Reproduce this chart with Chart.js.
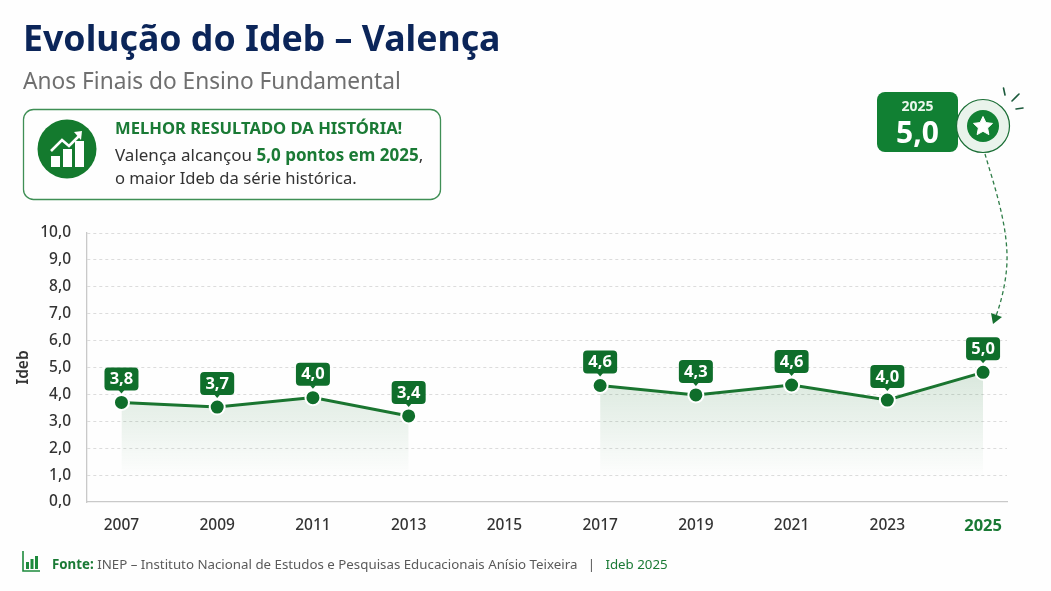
<!DOCTYPE html>
<html lang="pt-BR"><head><meta charset="utf-8">
<script src="https://cdn.jsdelivr.net/npm/chart.js@4"></script>
<style>
html,body{margin:0;padding:0;background:#fefefe}
body{width:1051px;height:591px;position:relative;overflow:hidden;font-family:"Noto Sans",sans-serif}
canvas{position:absolute;left:0;top:0}
.t{position:absolute;white-space:nowrap;line-height:1}
svg{position:absolute;left:0;top:0}
</style></head><body>
<canvas id="c" width="1051" height="591" style="width:1051px;height:591px"></canvas>
<svg width="1051" height="591" viewBox="0 0 1051 591">
  <rect x="23.5" y="109.5" width="417" height="90" rx="10" fill="none" stroke="#3f8f55" stroke-width="1.3"/>
  <circle cx="67" cy="149" r="29.5" fill="#147a2e"/>
  <g fill="#fff"><rect x="51" y="156" width="9" height="11"/><rect x="63" y="149" width="9" height="18"/><rect x="75" y="141" width="9" height="26"/></g>
  <path d="M51 151 L62 140 L69 146 L80 135" fill="none" stroke="#fff" stroke-width="2.6"/>
  <path d="M74 132 L82 131 L81 140 Z" fill="#fff"/>
  <rect x="877" y="92" width="81" height="60" rx="8" fill="#118033"/>
  <circle cx="983" cy="126" r="26.5" fill="#e9f3eb" stroke="#1a6e35" stroke-width="1.2"/>
  <circle cx="983" cy="126" r="16" fill="#118033"/>
  <path d="M983 116.5 L985.9 122.6 L992.5 123.4 L987.6 128 L988.9 134.6 L983 131.3 L977.1 134.6 L978.4 128 L973.5 123.4 L980.1 122.6 Z" fill="#fff" stroke="#fff" stroke-linejoin="round"/>
  <g stroke="#1c5a3c" stroke-width="1.6" stroke-linecap="round"><line x1="1003.5" y1="88" x2="1005" y2="95"/><line x1="1019" y1="94" x2="1012" y2="101"/><line x1="1023" y1="108" x2="1016" y2="109"/></g>
  <path d="M985 154 C994 185 1008 225 1007 262 C1006 285 1000 305 996 316" fill="none" stroke="#2f7d48" stroke-width="1.3" stroke-dasharray="4 3"/>
  <path d="M991 313 L1002 317 L993 324 Z" fill="#15702f"/>
  <g fill="none" stroke="#1d8a3c" stroke-width="1.6"><path d="M23 551 V571 H40"/></g>
  <g fill="#1d8a3c"><rect x="26" y="562" width="3" height="7"/><rect x="30.5" y="559" width="3" height="10"/><rect x="35" y="556" width="3" height="13"/></g>
</svg>
<div class="t" style="left:23px;top:20px;font-size:35.7px;font-weight:700;color:#0b2559">Evolução do Ideb – Valença</div>
<div class="t" style="left:23px;top:70px;font-size:22.7px;color:#6f6f6f">Anos Finais do Ensino Fundamental</div>
<div class="t" style="left:115px;top:120px;font-size:16.6px;font-weight:700;color:#1a7a35">MELHOR RESULTADO DA HISTÓRIA!</div>
<div class="t" style="left:115px;top:146px;font-size:17px;color:#333">Valença alcançou <b style="color:#1a7a35">5,0 pontos em 2025</b>,</div>
<div class="t" style="left:115px;top:170px;font-size:16.6px;color:#333">o maior Ideb da série histórica.</div>
<div class="t" style="left:877px;width:81px;text-align:center;top:99px;font-size:14px;font-weight:700;color:#eaf6ec">2025</div>
<div class="t" style="left:877px;width:81px;text-align:center;top:117px;font-size:30px;font-weight:700;color:#fff">5,0</div>
<div class="t" style="left:52px;top:558px;font-size:13.3px;color:#5a5a5a"><b style="color:#1a7a35">Fonte:</b> INEP – Instituto Nacional de Estudos e Pesquisas Educacionais Anísio Teixeira &nbsp; | &nbsp; <span style="color:#1a7a35">Ideb 2025</span></div>
<script>
const categories = [2007, 2009, 2011, 2013, 2015, 2017, 2019, 2021, 2023, 2025];
// Height of each point on the axis, as drawn in the picture
const plottedValues = [3.7, 3.53, 3.88, 3.2, null, 4.33, 3.98, 4.35, 3.79, 4.82];
// Text printed in the flag above each point
const valueLabels = ['3,8', '3,7', '4,0', '3,4', null, '4,6', '4,3', '4,6', '4,0', '5,0'];
const yTicks = [0, 1, 2, 3, 4, 5, 6, 7, 8, 9, 10];

const FONT = '"Noto Sans", sans-serif';
const flagPlugin = {
  id: 'flags',
  afterDatasetsDraw(chart) {
    const { ctx } = chart;
    const meta = chart.getDatasetMeta(0);
    meta.data.forEach((pt, i) => {
      const txt = valueLabels[i];
      if (txt === null) return;
      const w = 34, h = 23, x = pt.x, b = pt.y - 12, top = b - h;
      ctx.save();
      ctx.fillStyle = '#0f6e2b';
      ctx.beginPath();
      ctx.roundRect(x - w / 2, top, w, h, 4);
      ctx.fill();
      ctx.beginPath();
      ctx.moveTo(x - 3, b - 0.5); ctx.lineTo(x + 3, b - 0.5); ctx.lineTo(x, b + 3);
      ctx.closePath(); ctx.fill();
      ctx.fillStyle = '#fff';
      ctx.font = '700 16.5px ' + FONT;
      ctx.textAlign = 'center';
      ctx.textBaseline = 'middle';
      ctx.fillText(txt, x, top + h / 2 + 0.5);
      ctx.restore();
    });
  }
};

new Chart(document.getElementById('c'), {
  type: 'line',
  data: {
    datasets: [{
      data: categories.map((c, i) => ({ x: c, y: plottedValues[i] })),
      borderColor: '#1a7530',
      borderWidth: 3,
      tension: 0,
      spanGaps: false,
      pointRadius: 7.5,
      pointBorderWidth: 2,
      pointBackgroundColor: '#0f6e2b',
      pointBorderColor: '#ffffff',
      fill: 'origin',
      backgroundColor(ctx) {
        const { chart } = ctx;
        if (!chart.chartArea) return 'rgba(0,0,0,0)';
        const s = chart.scales.y;
        const g = chart.ctx.createLinearGradient(0, s.getPixelForValue(5), 0, s.getPixelForValue(0.9));
        g.addColorStop(0, 'rgba(26,117,48,0.17)');
        g.addColorStop(1, 'rgba(26,117,48,0)');
        return g;
      }
    }]
  },
  plugins: [flagPlugin],
  options: {
    responsive: false,
    animation: false,
    events: [],
    layout: { padding: { left: 14, right: 44, top: 233, bottom: 40 } },
    plugins: { legend: { display: false }, tooltip: { enabled: false }, title: { display: false } },
    scales: {
      x: {
        type: 'linear',
        min: 2006.28,
        max: 2025.5,
        afterBuildTicks(axis) { axis.ticks = categories.map(v => ({ value: v })); },
        afterFit(axis) { axis.height = 49; },
        grid: { display: false },
        border: { display: true, color: '#c9c9c9', width: 1.3 },
        ticks: {
          autoSkip: false, maxRotation: 0, padding: 6,
          callback: v => String(v),
          color: c => c.tick && c.tick.value === 2025 ? '#1a7a35' : '#333333',
          font: c => ({ family: FONT, size: c.tick && c.tick.value === 2025 ? 16.5 : 15.5, weight: c.tick && c.tick.value === 2025 ? '700' : '500' })
        }
      },
      y: {
        min: 0, max: 10,
        afterBuildTicks(axis) { axis.ticks = yTicks.map(v => ({ value: v })); },
        afterFit(axis) { axis.width = 73; },
        title: { display: true, text: 'Ideb', color: '#333333', font: { family: FONT, size: 15.5, weight: '600' }, padding: { top: 0, bottom: 0 } },
        grid: { color: c => c.tick && c.tick.value === 0 ? 'rgba(0,0,0,0)' : '#dcdcdc', lineWidth: 1, drawTicks: false },
        border: { display: true, color: '#c9c9c9', width: 1.3, dash: [3, 3] },
        ticks: {
          padding: 16, color: '#333333',
          font: { family: FONT, size: 15.5, weight: '500' },
          callback: v => v.toFixed(1).replace('.', ',')
        }
      }
    }
  }
});
</script>
</body></html>
